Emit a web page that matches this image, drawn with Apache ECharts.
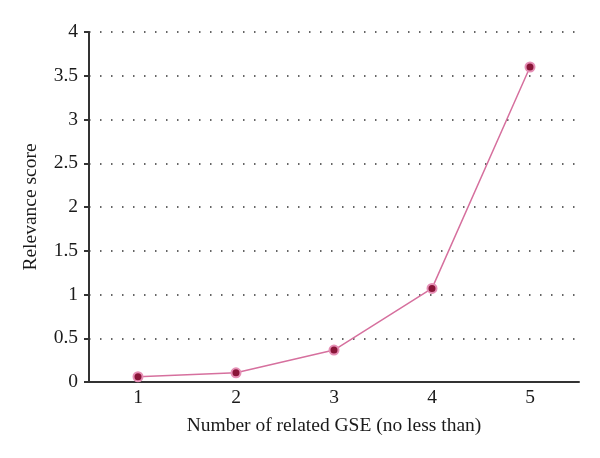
<!DOCTYPE html>
<html>
<head>
<meta charset="utf-8">
<script src="https://cdn.jsdelivr.net/npm/echarts@6/dist/echarts.min.js"></script>
<style>html,body{margin:0;padding:0;background:#fff;}#c{width:600px;height:458px;}</style>
</head>
<body>
<div id="c"></div>
<script>
const categories = ['1', '2', '3', '4', '5'];
const scores = [0.06, 0.105, 0.365, 1.07, 3.6];
const xAxisTitle = 'Number of related GSE (no less than)';
const yAxisTitle = 'Relevance score';

const font = '"Liberation Serif", "DejaVu Serif", serif';
const chart = echarts.init(document.getElementById('c'), null, {renderer: 'canvas'});
chart.setOption({
  animation: false,
  backgroundColor: '#fff',
  grid: {left: 89, right: 21, top: 32, bottom: 76},
  xAxis: {
    type: 'category',
    data: categories,
    boundaryGap: true,
    name: xAxisTitle,
    nameLocation: 'middle',
    nameGap: 34,
    nameTextStyle: {fontFamily: font, fontSize: 19.5, color: '#1a1a1a'},
    axisLine: {lineStyle: {color: '#333', width: 2}},
    axisTick: {show: false},
    axisLabel: {fontFamily: font, fontSize: 19.5, color: '#1a1a1a', margin: 6},
    splitLine: {show: false}
  },
  yAxis: {
    type: 'value',
    min: 0, max: 4, interval: 0.5,
    name: yAxisTitle,
    nameLocation: 'middle',
    nameGap: 48,
    nameTextStyle: {fontFamily: font, fontSize: 19.5, color: '#1a1a1a'},
    axisLine: {show: true, lineStyle: {color: '#333', width: 2}},
    axisTick: {show: true, length: 5, lineStyle: {color: '#333', width: 2}},
    axisLabel: {fontFamily: font, fontSize: 19.5, color: '#1a1a1a', margin: 11},
    splitLine: {show: true, lineStyle: {color: '#333', width: 1.5, type: [1.5, 9.5]}}
  },
  series: [{
    type: 'line',
    data: scores,
    symbol: 'circle',
    symbolSize: 9,
    lineStyle: {color: '#d6709e', width: 1.5},
    itemStyle: {color: '#8a1538', borderColor: '#e58fb5', borderWidth: 2}
  }]
});
</script>
</body>
</html>
